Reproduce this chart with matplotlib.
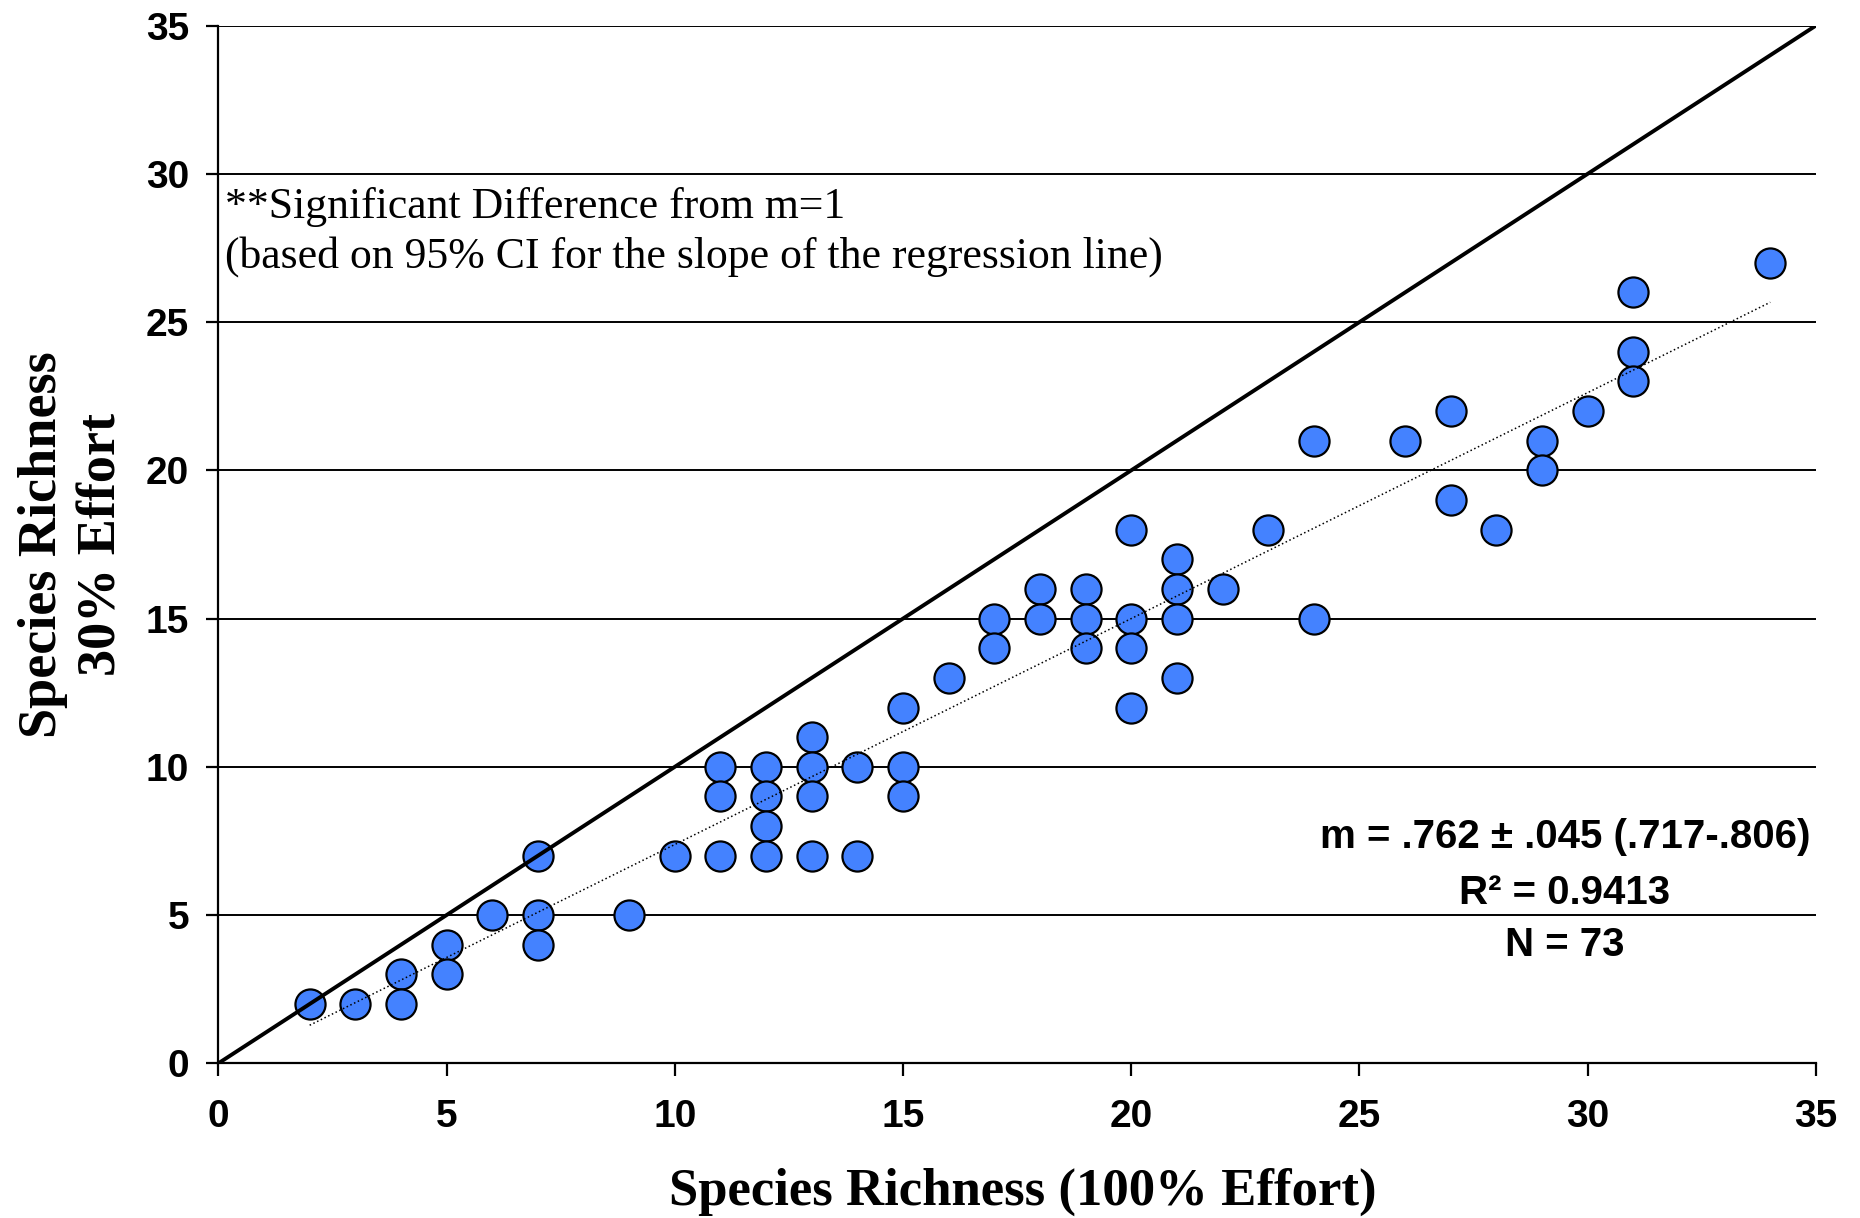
import matplotlib
matplotlib.use("Agg")
import matplotlib.pyplot as plt
import numpy as np

# Species richness at full sampling effort (x) vs. 30% effort (y)
richness_100 = [2, 3, 4, 4, 5, 5, 6, 7, 7, 7, 9, 10, 11, 11, 11, 12, 12, 12, 12,
                13, 13, 13, 13, 14, 14, 15, 15, 15, 16, 17, 17, 18, 18, 19, 19, 19,
                20, 20, 20, 20, 21, 21, 21, 21, 22, 23, 24, 24, 26, 27, 27, 28, 29,
                29, 30, 31, 31, 31, 34]
richness_30 = [2, 2, 3, 2, 4, 3, 5, 7, 5, 4, 5, 7, 10, 9, 7, 10, 9, 8, 7,
               11, 10, 9, 7, 10, 7, 12, 10, 9, 13, 15, 14, 16, 15, 16, 15, 14,
               18, 15, 14, 12, 17, 16, 15, 13, 16, 18, 21, 15, 21, 22, 19, 18, 21,
               20, 22, 26, 24, 23, 27]

# Regression fit reported on the chart
slope = 0.762
intercept = -0.24
ticks = [0, 5, 10, 15, 20, 25, 30, 35]

stats_lines = ["m = .762 \u00b1 .045 (.717-.806)", "R\u00b2 = 0.9413", "N = 73"]
note_lines = ["**Significant Difference from m=1",
              "(based on 95% CI for the slope of the regression line)"]

fig = plt.figure(figsize=(18.6, 12.18), dpi=100)
ax = fig.add_axes([0.1174, 0.1270, 0.9763 - 0.1174, 0.9790 - 0.1270])

ax.set_xlim(0, 35)
ax.set_ylim(0, 35)
ax.set_xticks(ticks)
ax.set_yticks(ticks)

# horizontal gridlines behind everything
ax.yaxis.grid(True, color="black", linewidth=1.4, zorder=0)
ax.set_axisbelow(True)

for s in ["top", "right"]:
    ax.spines[s].set_visible(False)
for s in ["left", "bottom"]:
    ax.spines[s].set_linewidth(1.6)
    ax.spines[s].set_color("black")

ax.tick_params(axis="both", direction="out", length=9, width=1.6, color="black")
ax.tick_params(axis="y", pad=12)
ax.tick_params(axis="x", pad=17)
for lab in ax.get_xticklabels() + ax.get_yticklabels():
    lab.set_fontfamily("Liberation Sans")
    lab.set_fontweight("bold")
    lab.set_fontsize(28)

ax.scatter(richness_100, richness_30, s=470, facecolor="#4482FF",
           edgecolor="black", linewidth=1.6, zorder=3)

# 1:1 line
ax.plot([0, 35], [0, 35], color="black", linewidth=2.8, zorder=4,
        solid_capstyle="butt")

# regression line across the observed range
xr = np.array([min(richness_100), max(richness_100)])
ax.plot(xr, slope * xr + intercept, color="black", linestyle=(0, (1, 1.7)),
        linewidth=1.1, zorder=4)

for txt, yy in zip(note_lines, [28.52, 26.84]):
    ax.text(0.15, yy, txt, fontsize=31.5, family="Liberation Serif",
            ha="left", va="baseline", zorder=5)

for txt, yy in zip(stats_lines, [7.64, 5.76, 4.0]):
    ax.text(29.5, yy, txt, fontsize=29, family="Liberation Sans",
            fontweight="bold", ha="center", va="center", zorder=5)

fig.text(0.5497, 0.0213, "Species Richness (100% Effort)", fontsize=38,
         family="Liberation Serif", fontweight="bold", ha="center", va="center")
fig.text(0.039, 0.553, "Species Richness\n30% Effort", fontsize=39,
         family="Liberation Serif", fontweight="bold", ha="center", va="center",
         rotation=90, multialignment="center", linespacing=1.25)

fig.savefig("out.png", dpi=100)
